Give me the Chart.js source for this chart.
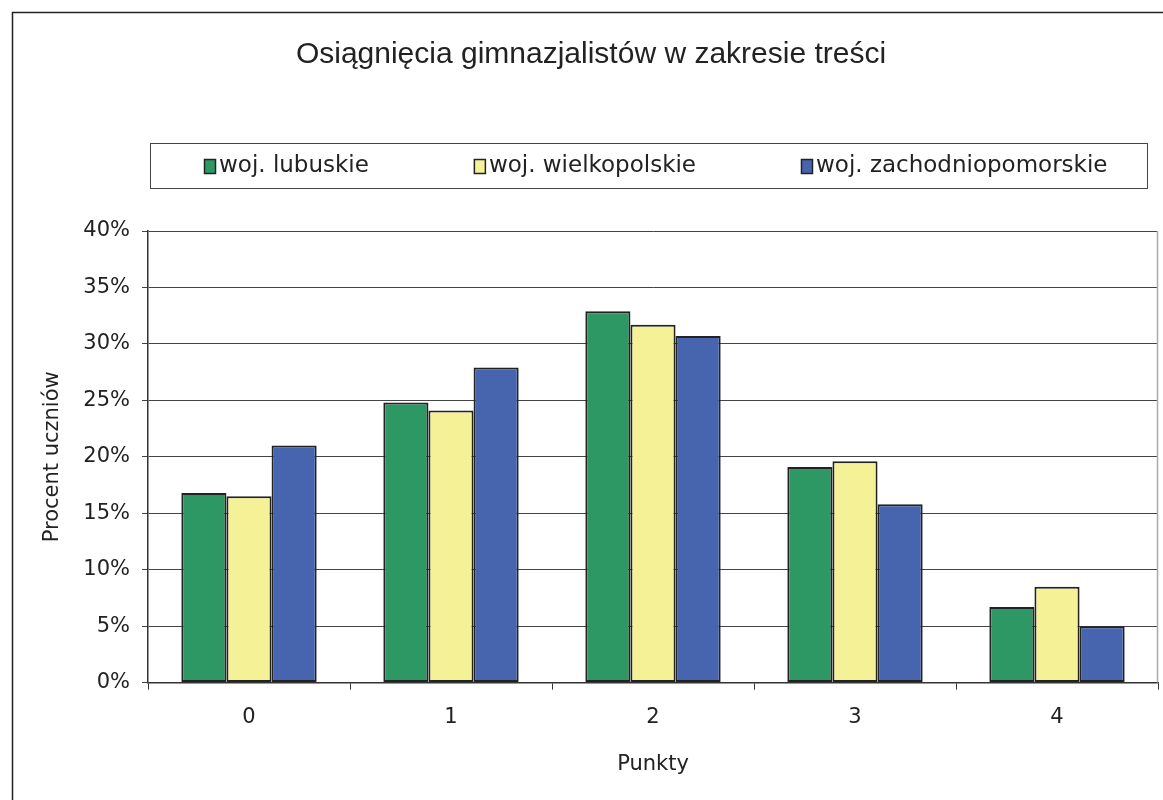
<!DOCTYPE html>
<html><head><meta charset="utf-8">
<script src="https://cdn.jsdelivr.net/npm/chart.js@4.4.1/dist/chart.umd.min.js"></script>
<style>html,body{margin:0;padding:0;background:#fff}#wrap{width:1163px;height:800px}</style>
</head><body><div id="wrap"><canvas id="c" width="1163" height="800"></canvas></div>
<script>
const categories = ['0', '1', '2', '3', '4'];
const lubuskie = [16.8, 24.8, 32.9, 19.1, 6.7];
const wielkopolskie = [16.5, 24.1, 31.7, 19.6, 8.5];
const zachodniopomorskie = [21.0, 27.9, 30.7, 15.8, 5.0];
const seriesNames = ['woj. lubuskie', 'woj. wielkopolskie', 'woj. zachodniopomorskie'];
const yTicks = [0, 5, 10, 15, 20, 25, 30, 35, 40];

const FONT = "'DejaVu Sans', 'Liberation Sans', sans-serif";
const TFONT = "'Liberation Sans', Arial, sans-serif";
const colors = ['#2E9864', '#F5F196', '#4665AE'];

const framePlugin = {
  id: 'frame',
  beforeDraw(chart) {
    const ctx = chart.ctx;
    ctx.save();
    ctx.fillStyle = '#fff';
    ctx.fillRect(0, 0, chart.width, chart.height);
    ctx.strokeStyle = '#222';
    ctx.lineWidth = 1.5;
    ctx.strokeRect(12.5, 12.5, 1300, 900);
    ctx.restore();
  },
  afterDraw(chart) {
    const ctx = chart.ctx;
    const a = chart.chartArea;
    ctx.save();
    ctx.strokeStyle = '#aaa';
    ctx.lineWidth = 1.5;
    ctx.beginPath();
    ctx.moveTo(a.right - 0.5, a.top);
    ctx.lineTo(a.right - 0.5, a.bottom);
    ctx.stroke();
    ctx.strokeStyle = '#444';
    ctx.lineWidth = 1;
    ctx.strokeRect(150.5, 143.5, 997, 45);
    ctx.font = '23px ' + FONT;
    ctx.textBaseline = 'middle';
    let x = 204;
    chart.data.datasets.forEach((ds, i) => {
      ctx.fillStyle = ds.backgroundColor;
      ctx.fillRect(x, 159, 12, 15);
      ctx.strokeStyle = '#222';
      ctx.lineWidth = 1.5;
      ctx.strokeRect(x + 0.5, 159.5, 11, 14);
      ctx.fillStyle = '#222';
      ctx.fillText(ds.label, x + 15, 166);
      x += 15 + ctx.measureText(ds.label).width + 105;
    });
    ctx.restore();
  }
};

new Chart(document.getElementById('c'), {
  type: 'bar',
  data: {
    labels: categories,
    datasets: [lubuskie, wielkopolskie, zachodniopomorskie].map((d, i) => ({
      label: seriesNames[i],
      data: d,
      backgroundColor: colors[i],
      borderColor: '#222',
      borderWidth: 2,
      borderSkipped: false,
      categoryPercentage: 0.67,
      barPercentage: 1.0
    }))
  },
  options: {
    responsive: false,
    animation: false,
    devicePixelRatio: 1,
    layout: { padding: { left: 24, right: 5, top: 0, bottom: 23 } },
    plugins: {
      legend: { display: false },
      tooltip: { enabled: false },
      title: {
        display: true,
        text: 'Osiągnięcia gimnazjalistów w zakresie treści',
        color: '#222',
        font: { family: TFONT, size: 30, weight: 'normal' },
        padding: { top: 37, bottom: 158 }
      }
    },
    scales: {
      x: {
        grid: { display: true, drawOnChartArea: false, drawTicks: true, tickLength: 7, color: '#333', offset: true },
        border: { display: true, color: '#333', width: 1.5 },
        ticks: { color: '#222', font: { family: FONT, size: 21 }, padding: 15 },
        title: { display: true, text: 'Punkty', color: '#222', font: { family: FONT, size: 21 }, padding: { top: 7, bottom: 0 } }
      },
      y: {
        min: 0, max: 40,
        afterBuildTicks(scale) { scale.ticks = yTicks.map(v => ({ value: v })); },
        grid: { color: '#444', lineWidth: 1, tickLength: 6, drawTicks: true },
        border: { display: true, color: '#333', width: 1.5 },
        ticks: { color: '#222', font: { family: FONT, size: 21 }, padding: 12, callback: v => v + '%' },
        title: { display: true, text: 'Procent uczniów', color: '#222', font: { family: FONT, size: 21 }, padding: { top: 16, bottom: 8 } },
        afterFit(scale) { scale.width = 124; }
      }
    }
  },
  plugins: [framePlugin]
});
</script>
</body></html>
